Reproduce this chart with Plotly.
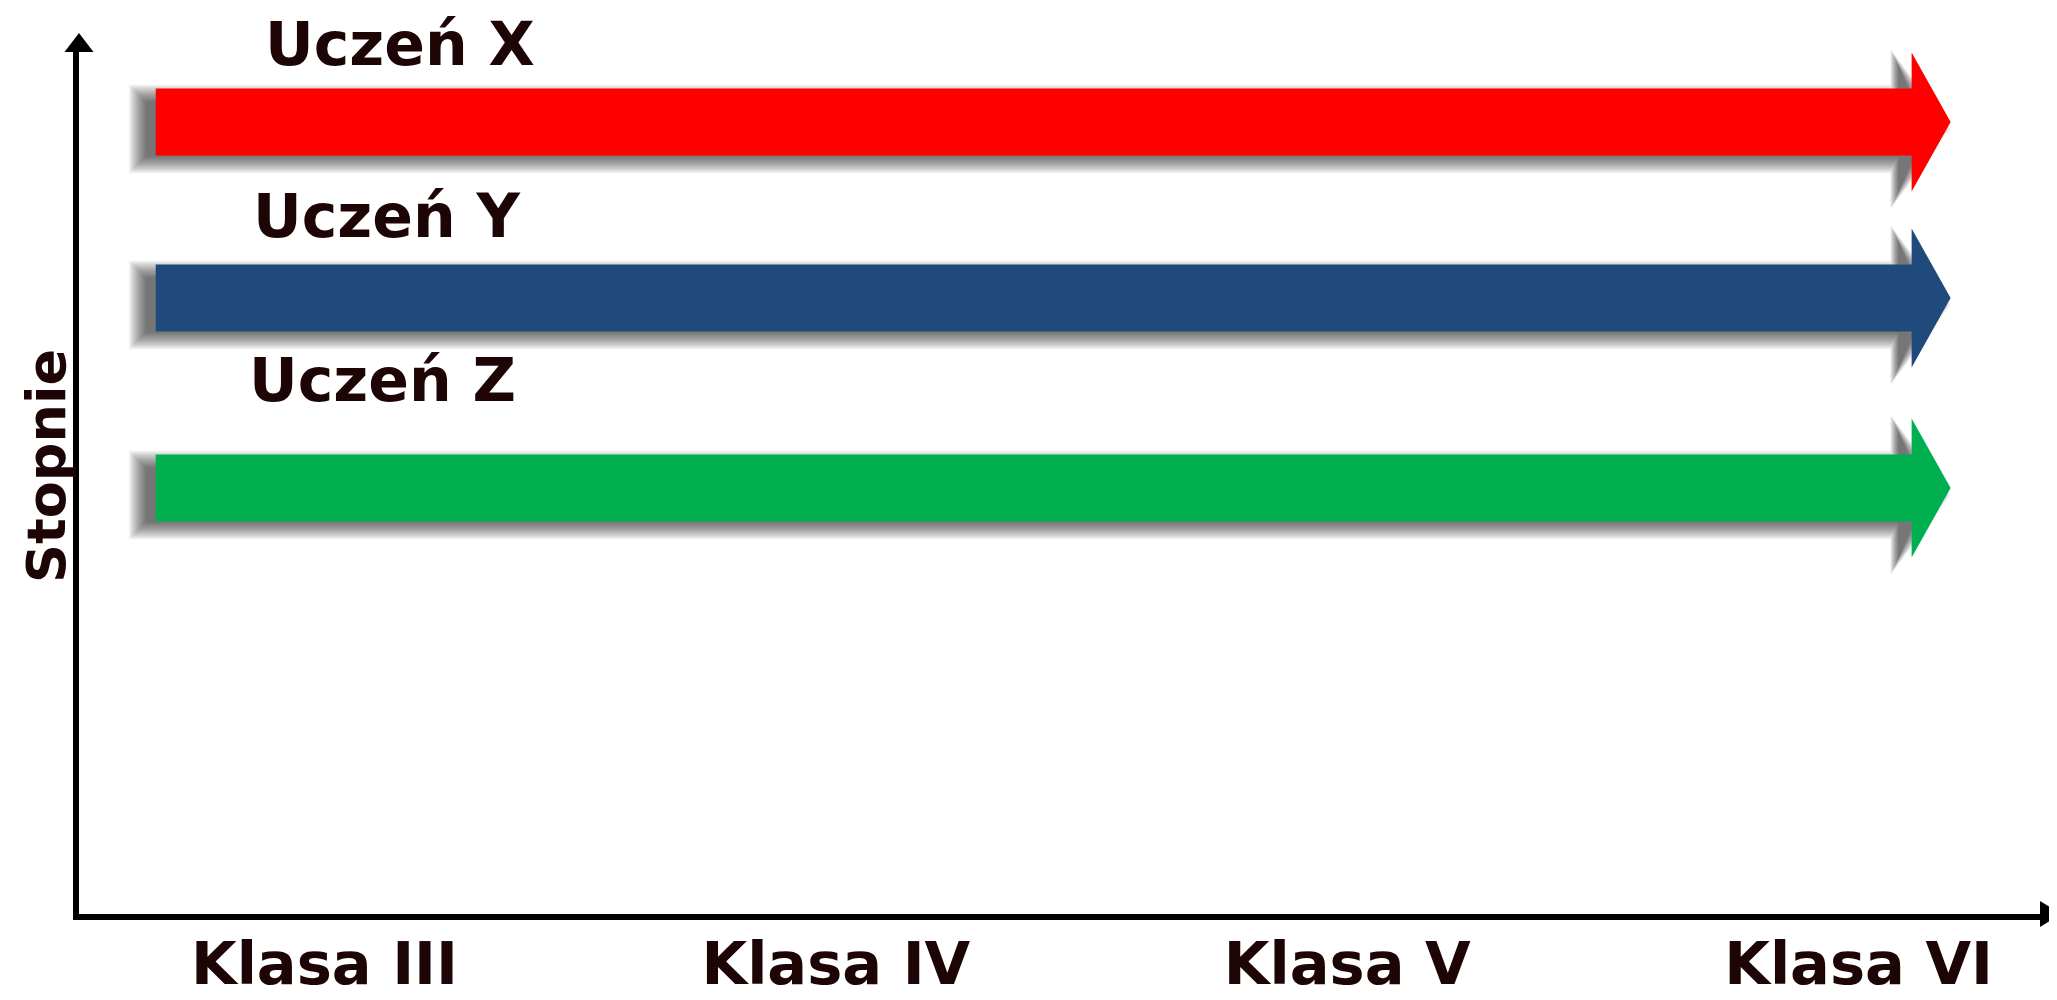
import plotly.graph_objects as go

# ---- data ----
classes = ["Klasa III", "Klasa IV", "Klasa V", "Klasa VI"]
class_pos = [0, 1, 2, 3]
students = ["Uczeń X", "Uczeń Y", "Uczeń Z"]
levels = [7.92, 6.16, 4.26]          # grade level (Stopnie) of each student's arrow
arrow_start = [-0.33, -0.33, -0.33]  # arrows start just before Klasa III
arrow_end = [3.18, 3.18, 3.18]       # arrows end just after Klasa VI
colors = ["#FF0000", "#214A7C", "#00B050"]

# ---- layout / style constants ----
# (page body has an 8px margin, so the figure is 8px smaller and shifted)
W, H = 2049, 992
ML, MR, MT, MB = 71, 0, 37, 86
XR = [-0.48, 3.388]
YR = [0, 8.69]
PX_X = (XR[1] - XR[0]) / (W - ML - MR)
PX_Y = (YR[1] - YR[0]) / (H - MT - MB)
TXT = "#1E0505"
FONT = "Verdana, DejaVu Sans, sans-serif"

BODY_H, HEAD_H, HEAD_L = 33.5, 69.5, 39
LABEL_XSHIFT = [244, 232, 227]   # px from arrow start to label centre
LABEL_YSHIFT = [78, 82, 108]     # px above arrow centre


def arrow_xy(x0, x1, y, grow=0.0, dx=0.0, dy=0.0):
    hb = (BODY_H + grow) * PX_Y
    hh = (HEAD_H + grow) * PX_Y
    xs0 = x0 + (dx - grow) * PX_X
    xb = x1 + (dx - HEAD_L - grow * 0.5) * PX_X
    xt = x1 + (dx + grow * 1.5) * PX_X
    yc = y - dy * PX_Y
    xs = [xs0, xb, xb, xt, xb, xb, xs0, xs0]
    ys = [yc + hb, yc + hb, yc + hh, yc, yc - hh, yc - hb, yc - hb, yc + hb]
    return xs, ys


fig = go.Figure()

# soft drop shadows (offset down-left), built from many faint layers
for s, x0, x1, y in zip(students, arrow_start, arrow_end, levels):
    for g in range(11, -7, -1):
        xs, ys = arrow_xy(x0, x1, y, grow=g, dx=-16, dy=7)
        fig.add_trace(go.Scatter(x=xs, y=ys, mode="lines", fill="toself",
                                 fillcolor="rgba(0,0,0,0.04)", line=dict(width=0),
                                 hoverinfo="skip", showlegend=False))

# arrows
for s, x0, x1, y, c in zip(students, arrow_start, arrow_end, levels, colors):
    xs, ys = arrow_xy(x0, x1, y)
    fig.add_trace(go.Scatter(x=xs, y=ys, mode="lines", fill="toself",
                             fillcolor=c, line=dict(width=0), name=s,
                             hoverinfo="name", showlegend=False))

# student labels
for s, x0, y, xs_, ys_ in zip(students, arrow_start, levels, LABEL_XSHIFT, LABEL_YSHIFT):
    fig.add_annotation(x=x0, y=y, xshift=xs_, yshift=ys_, text=s, showarrow=False,
                       xanchor="center", yanchor="middle",
                       font=dict(family=FONT, size=60, color=TXT, weight="bold"))

# y-axis title
fig.add_annotation(xref="paper", yref="paper", x=-0.0167, y=0.5155, text="Stopnie",
                   textangle=-90, showarrow=False, xanchor="center", yanchor="middle",
                   font=dict(family=FONT, size=54, color=TXT, weight="bold"))

# axis arrowheads
fig.add_shape(type="path", xref="paper", yref="paper", xsizemode="pixel",
              ysizemode="pixel", xanchor=0, yanchor=1,
              path="M -14.5,-7 L 14.5,-7 L 0,12 Z", fillcolor="black",
              line=dict(width=0))
fig.add_shape(type="path", xref="paper", yref="paper", xsizemode="pixel",
              ysizemode="pixel", xanchor=1, yanchor=0,
              path="M -17,13 L -17,-13 L 4,0 Z", fillcolor="black",
              line=dict(width=0))

fig.update_layout(
    width=W, height=H,
    margin=dict(l=ML, r=MR, t=MT, b=MB),
    paper_bgcolor="white", plot_bgcolor="white",
    xaxis=dict(range=XR, tickvals=class_pos, ticktext=classes, showgrid=False,
               zeroline=False, showline=True, linecolor="black", linewidth=6,
               ticks="", ticklabelstandoff=-7, automargin=False,
               tickfont=dict(family=FONT, size=59, color=TXT, weight="bold")),
    yaxis=dict(range=YR, showgrid=False, zeroline=False, showline=True,
               linecolor="black", linewidth=6, showticklabels=False, ticks="",
               automargin=False),
)

fig.write_html("out.html")
